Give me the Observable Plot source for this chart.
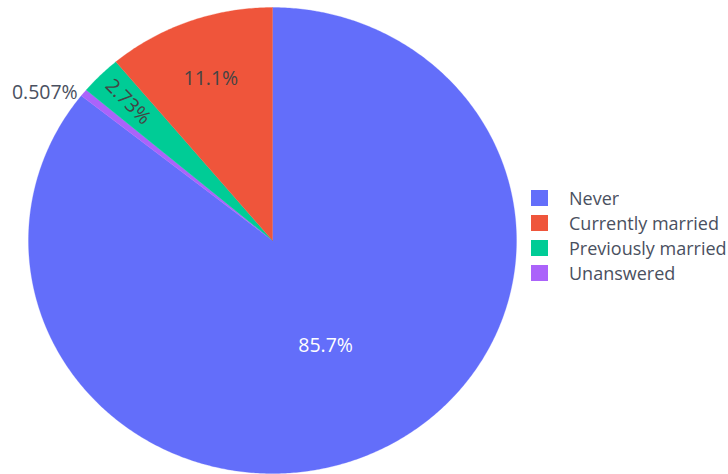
<!DOCTYPE html>
<html><head><meta charset="utf-8">
<script src="https://cdn.jsdelivr.net/npm/d3@7"></script>
<script src="https://cdn.jsdelivr.net/npm/@observablehq/plot@0.6"></script>
<style>
body{margin:0;background:#fff;font-family:"Open Sans",sans-serif;}
#wrap{position:relative;width:728px;height:474px;overflow:hidden;}
#chart{position:absolute;left:0;top:0;}
#legend{position:absolute;left:531px;top:185px;}
#legend .lg-swatch{height:25px;margin:0 !important;padding:0 !important;}
#legend .lg-swatch > svg{margin-right:21px !important;}
</style></head><body><div id="wrap"><div id="chart"></div><div id="legend"></div></div>
<script>
const categories = ["Never", "Currently married", "Previously married", "Unanswered"];
const percents = [85.7, 11.1, 2.73, 0.507];
const labels = ["85.7%", "11.1%", "2.73%", "0.507%"];
const colors = ["#636efa", "#ef553b", "#00cc96", "#ab63fa"];
// clockwise order of the slices starting at 12 o'clock
const sliceOrder = ["Never", "Unanswered", "Previously married", "Currently married"];

const total = d3.sum(percents);
const points = [];
const labelData = [];
let start = 0;
for (const cat of sliceOrder) {
  const i = categories.indexOf(cat);
  const frac = percents[i] / total;
  const a0 = start, a1 = start + frac * 2 * Math.PI;
  start = a1;
  const n = Math.max(2, Math.ceil((a1 - a0) / (Math.PI / 360)));
  points.push({category: cat, x: 0, y: 0});
  for (let k = 0; k <= n; ++k) {
    const a = a0 + (a1 - a0) * k / n;
    points.push({category: cat, x: Math.sin(a), y: Math.cos(a)});
  }
  points.push({category: cat, x: 0, y: 0});
  const mid = (a0 + a1) / 2;
  let r, kind, rotate = 0;
  if (frac >= 0.5) { r = 0.5; kind = "inside"; }
  else if (frac >= 0.05) { r = 0.74; kind = "inside"; }
  else if (frac >= 0.01) { r = 0.84; kind = "radial"; rotate = mid * 180 / Math.PI - 270; }
  else { r = 1.0; kind = "outside"; }
  const light = d3.lab(colors[i]).l < 54;
  labelData.push({category: cat, text: labels[i], x: r * Math.sin(mid), y: r * Math.cos(mid), kind, rotate, light});
}

const fs = 19.5;
const chart = Plot.plot({
  width: 728, height: 474,
  marginLeft: 28, marginRight: 212, marginTop: 7, marginBottom: 1,
  x: {domain: [-1, 1], axis: null},
  y: {domain: [-1, 1], axis: null},
  color: {domain: categories, range: colors},
  style: {fontFamily: "'Open Sans', sans-serif", background: "white", overflow: "visible"},
  marks: [
    Plot.line(points, {x: "x", y: "y", z: "category", fill: "category", stroke: "category", strokeWidth: 0.3, curve: "linear"}),
    Plot.text(labelData.filter(d => d.kind !== "outside" && d.light), {x: "x", y: "y", text: "text", rotate: "rotate", fill: "white", fontSize: fs}),
    Plot.text(labelData.filter(d => d.kind !== "outside" && !d.light), {x: "x", y: "y", text: "text", rotate: "rotate", fill: "#444", fontSize: fs}),
    Plot.text(labelData.filter(d => d.kind === "outside"), {x: "x", y: "y", text: "text", fill: "#4a5060", fontSize: fs, textAnchor: "end", dx: -6})
  ]
});
document.getElementById("chart").append(chart);

const legend = Plot.legend({
  color: {domain: categories, range: colors},
  legend: "swatches", columns: 1,
  swatchWidth: 17, swatchHeight: 16,
  className: "lg",
  style: {fontSize: "18px", color: "#4a5060", fontFamily: "'Open Sans', sans-serif"}
});
document.getElementById("legend").append(legend);
</script>
</body></html>
